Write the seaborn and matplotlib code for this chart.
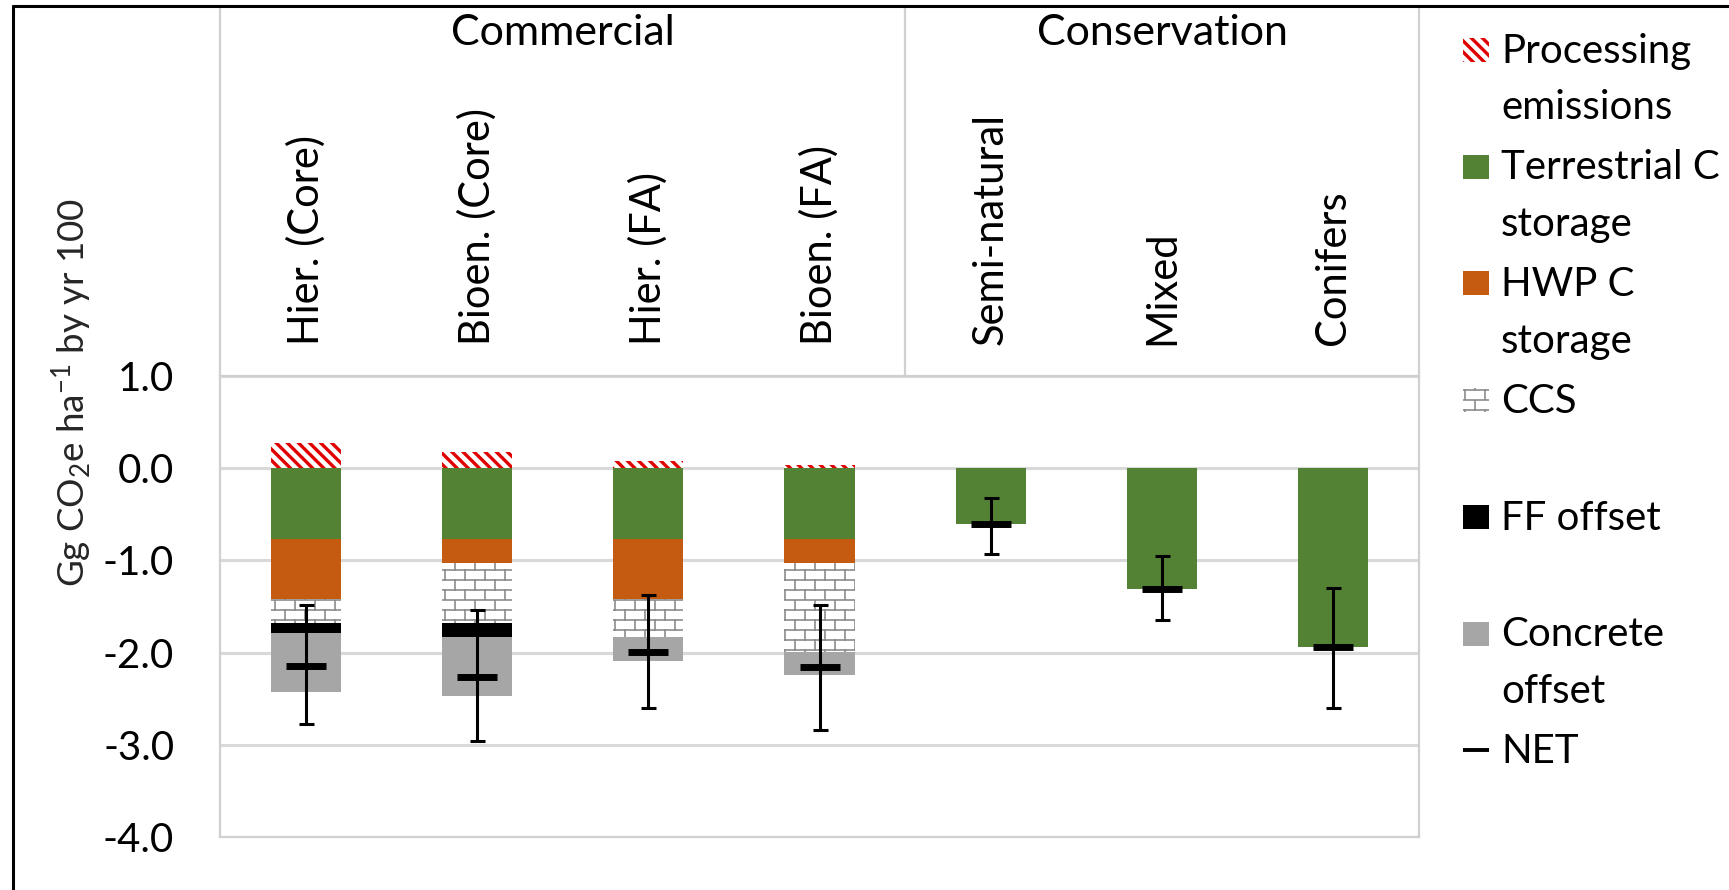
import numpy as np
import matplotlib
matplotlib.use("Agg")
import matplotlib.pyplot as plt
import matplotlib.hatch as mhatch
from matplotlib.path import Path
from matplotlib.patches import Rectangle, Patch
from matplotlib.lines import Line2D
from matplotlib.legend_handler import HandlerBase
import seaborn as sns

# ---------------------------------------------------------------- data
categories = ["Hier. (Core)", "Bioen. (Core)", "Hier. (FA)", "Bioen. (FA)",
              "Semi-natural", "Mixed", "Conifers"]
groups = ["Commercial", "Conservation"]
group_sizes = [4, 3]

processing = [0.27, 0.18, 0.08, 0.04, 0.0, 0.0, 0.0]
terrestrial = [-0.77, -0.77, -0.77, -0.77, -0.61, -1.31, -1.94]
hwp = [-0.65, -0.26, -0.65, -0.26, 0.0, 0.0, 0.0]
ccs = [-0.26, -0.65, -0.41, -0.96, 0.0, 0.0, 0.0]
ff_offset = [-0.11, -0.15, 0.0, 0.0, 0.0, 0.0, 0.0]
concrete = [-0.64, -0.64, -0.26, -0.25, 0.0, 0.0, 0.0]

net = [-2.14, -2.27, -1.99, -2.16, -0.61, -1.31, -1.94]
net_low = [-2.77, -2.96, -2.60, -2.84, -0.93, -1.65, -2.60]
net_high = [-1.48, -1.54, -1.37, -1.48, -0.32, -0.95, -1.30]

y_ticks = [1.0, 0.0, -1.0, -2.0, -3.0, -4.0]
y_tick_labels = ["1.0", "0.0", "-1.0", "-2.0", "-3.0", "-4.0"]

legend_labels = ["Processing\nemissions", "Terrestrial C\nstorage",
                 "HWP C\nstorage", "CCS\n ", "FF offset\n ",
                 "Concrete\noffset", "NET\n "]

# ---------------------------------------------------------------- style
GREEN = "#548235"
ORANGE = "#c55a11"
GREY = "#a6a6a6"
RED = "#e00000"
MORTAR = "#8c8c8c"
FRAME = "#d0d0d0"
GRID = "#d9d9d9"
FS = 29

PROC_HATCH = "\\\\\\"
BRICK_HATCH = "o"


class BrickHatch(mhatch.HatchPatternBase):
    """Staggered brick courses, drawn for the 'o' hatch character."""

    def __init__(self, hatch, density):
        self.rows = hatch.count("o") * 10
        self.cols = 5
        if self.rows:
            self.num_vertices = (self.rows + 1) * 2 + self.rows * self.cols * 2
        else:
            self.num_vertices = 0

    def set_vertices_and_codes(self, vertices, codes):
        h = 1.0 / self.rows
        w = 1.0 / self.cols
        pts = []
        for r in range(self.rows + 1):
            pts += [(0.0, r * h), (1.0, r * h)]
        for r in range(self.rows):
            shift = 0.25 * w if r % 2 == 0 else 0.75 * w
            for c in range(self.cols):
                x = shift + c * w
                pts += [(x, r * h), (x, (r + 1) * h)]
        vertices[:] = pts
        codes[0::2] = Path.MOVETO
        codes[1::2] = Path.LINETO


mhatch._hatch_types = [t for t in mhatch._hatch_types
                       if t is not mhatch.SmallCircles] + [BrickHatch]

sns.set_theme(style="white")
plt.rcParams["font.family"] = ["Lato", "DejaVu Sans"]
plt.rcParams["mathtext.default"] = "regular"
plt.rcParams["hatch.linewidth"] = 1.4
plt.rcParams["text.color"] = "black"
plt.rcParams["xtick.color"] = "black"
plt.rcParams["ytick.color"] = "black"


def set_hatch_width(artists, lw):
    for a in artists:
        if hasattr(a, "set_hatch_linewidth"):
            a.set_hatch_linewidth(lw)


fig = plt.figure(figsize=(17.29, 8.90), dpi=100)
fig.patch.set_facecolor("white")
ax = fig.add_axes([220 / 1729, 1 - 837 / 890, 1199 / 1729, 461 / 890])

n = len(categories)
pos = np.arange(n)
BAR_W = 0.41

# positive layer: processing emissions above zero
sns.barplot(x=categories, y=processing, order=categories, ax=ax,
            width=BAR_W, saturation=1, errorbar=None,
            color="white", facecolor="white", edgecolor=RED,
            linewidth=0, hatch=PROC_HATCH, zorder=2)
set_hatch_width(ax.containers[-1], 2.4)

# negative layers stacked downward from zero
neg_layers = [
    (terrestrial, dict(color=GREEN, edgecolor=GREEN)),
    (hwp, dict(color=ORANGE, edgecolor=ORANGE)),
    (ccs, dict(color="white", facecolor="white", edgecolor=MORTAR,
               hatch=BRICK_HATCH)),
    (ff_offset, dict(color="black", edgecolor="black")),
    (concrete, dict(color=GREY, edgecolor=GREY)),
]
bottom = np.zeros(n)
for values, style in neg_layers:
    sns.barplot(x=categories, y=values, order=categories, ax=ax,
                width=BAR_W, saturation=1, errorbar=None,
                bottom=bottom, linewidth=0, zorder=2, **style)
    if "hatch" in style:
        set_hatch_width(ax.containers[-1], 1.2)
    bottom = bottom + np.asarray(values)

# NET with its uncertainty range
net_arr = np.asarray(net)
yerr = [net_arr - np.asarray(net_low), np.asarray(net_high) - net_arr]
ax.errorbar(pos, net_arr, yerr=yerr, fmt="none", ecolor="black",
            elinewidth=2.2, capsize=5.4, capthick=2.2, zorder=5)
ax.plot(pos, net_arr, linestyle="none", marker="_", markersize=29,
        markeredgewidth=5, color="black", zorder=6)

# ---------------------------------------------------------------- axes
ax.set_xlim(-0.5, n - 0.5)
ax.set_ylim(-4, 1)
ax.set_yticks(y_ticks)
ax.set_yticklabels(y_tick_labels)
ax.set_xlabel("")
ax.set_ylabel("Gg CO$_2$e ha$^{-1}$ by yr 100", fontsize=26.5)
ax.yaxis.set_label_coords(-0.104, 0.965)

ax.tick_params(axis="y", length=0, pad=33, labelsize=FS)
ax.tick_params(axis="x", bottom=False, labelbottom=False, top=False,
               labeltop=True, labelrotation=90, pad=22, labelsize=30,
               length=0)

ax.set_axisbelow(True)
ax.yaxis.grid(True, color=GRID, linewidth=2.2)
ax.xaxis.grid(False)
for sp in ax.spines.values():
    sp.set_visible(True)
    sp.set_color(FRAME)
    sp.set_linewidth(1.6)

# category group header above the plot area
header_top = (837 - 7) / 461
edges = np.concatenate([[0], np.cumsum(group_sizes)]) - 0.5
for xv in edges:
    ax.plot([xv, xv], [1, header_top], transform=ax.get_xaxis_transform(),
            color=FRAME, linewidth=1.6, clip_on=False, zorder=1)
for name, lo, hi in zip(groups, edges[:-1], edges[1:]):
    ax.text((lo + hi) / 2, (837 - 33) / 461, name,
            transform=ax.get_xaxis_transform(), ha="center", va="center",
            fontsize=31)

# ---------------------------------------------------------------- legend
LEG_STEP = 0.745
LEG_LINESPACING = 1.66


class FirstLineHandler(HandlerBase):
    """Legend key placed beside the first line of a two-line label."""

    def create_artists(self, legend, orig_handle, xdescent, ydescent,
                       width, height, fontsize, trans):
        yc = LEG_STEP * fontsize + 0.36 * fontsize
        if isinstance(orig_handle, Line2D):
            art = Line2D([-xdescent, -xdescent + width], [yc, yc],
                         color=orig_handle.get_color(),
                         linewidth=orig_handle.get_linewidth(),
                         solid_capstyle="butt")
        else:
            ph = 0.6 * fontsize
            art = Rectangle((-xdescent, yc - ph / 2), width, ph,
                            facecolor=orig_handle.get_facecolor(),
                            edgecolor=orig_handle.get_edgecolor(),
                            hatch=orig_handle.get_hatch(), linewidth=0)
            if hasattr(orig_handle, "get_hatch_linewidth"):
                set_hatch_width([art], orig_handle.get_hatch_linewidth())
        art.set_transform(trans)
        return [art]


leg_handles = [
    Patch(facecolor="white", edgecolor=RED, hatch=PROC_HATCH, linewidth=0),
    Patch(facecolor=GREEN, edgecolor=GREEN, linewidth=0),
    Patch(facecolor=ORANGE, edgecolor=ORANGE, linewidth=0),
    Patch(facecolor="white", edgecolor=MORTAR, hatch=BRICK_HATCH, linewidth=0),
    Patch(facecolor="black", edgecolor="black", linewidth=0),
    Patch(facecolor=GREY, edgecolor=GREY, linewidth=0),
    Line2D([], [], color="black", linewidth=2.8),
]
set_hatch_width(leg_handles[:1], 2.4)
set_hatch_width(leg_handles[3:4], 1.2)

handler = FirstLineHandler()
leg = fig.legend(leg_handles, legend_labels, loc="upper left",
                 bbox_to_anchor=(1463 / 1729, 1 - 32.5 / 890),
                 bbox_transform=fig.transFigure, frameon=False, fontsize=FS,
                 borderpad=0, borderaxespad=0, handlelength=0.645,
                 handletextpad=0.3, labelspacing=0.57,
                 handler_map={Patch: handler, Line2D: handler})
for t in leg.get_texts():
    t.set_linespacing(LEG_LINESPACING)

# outer frame along the left and top edges
fx = 12.5 / 1729
fy = 1 - 5.5 / 890
fig.add_artist(Line2D([fx, fx], [0, fy], transform=fig.transFigure,
                      color="black", linewidth=2.2))
fig.add_artist(Line2D([fx, 1], [fy, fy], transform=fig.transFigure,
                      color="black", linewidth=2.2))

fig.savefig("out.png", dpi=100)
